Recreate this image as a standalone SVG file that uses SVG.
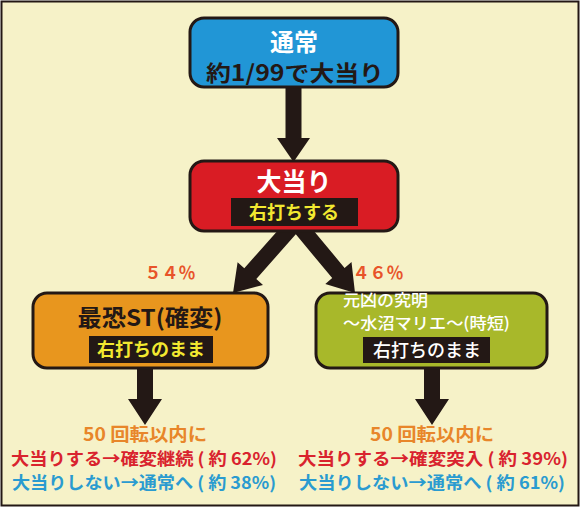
<svg xmlns="http://www.w3.org/2000/svg" width="580" height="507" viewBox="0 0 580 507">
<style>
text{font-family:"Noto Sans CJK JP","Noto Sans",sans-serif;font-weight:bold;}
.box{stroke:#231815;stroke-width:3;}
.lbl{fill:#231815;}
.arrow{fill:#231815;}
.w{fill:#ffffff;}
.k{fill:#231815;}
.y{fill:#f2e830;}
.pct{fill:#e8542a;font-size:17px;}
.or{fill:#e8862a;}
.rd{fill:#d9232e;}
.bl{fill:#2a9bd0;}
.m{font-weight:500;}
</style>
<rect x="1.5" y="1.5" width="577" height="504" fill="#f6f2c8" stroke="#231815" stroke-width="2"/>
<g id="connectors">
<polygon class="arrow" points="285.5,80 301.5,80 301.5,138 310,138 293.5,162 277,138 285.5,138"/>
<polygon class="arrow" points="302.0,227.3 256.3,278.9 263.0,284.9 233,293 237.6,262.3 244.3,268.3 290.0,216.7"/>
<polygon class="arrow" points="302.2,216.9 344.6,267.9 351.5,262.1 355,293 325.3,283.9 332.2,278.1 289.8,227.1"/>
<polygon class="arrow" points="137,365 153,365 153,399 162,399 145,425 128,399 137,399"/>
<polygon class="arrow" points="424,365 440,365 440,399 449,399 432,425 415,399 424,399"/>
</g>
<g id="node-normal">
<rect class="box" x="190" y="18" width="208" height="69" rx="14" fill="#2196d6"/>
<text class="w" x="294" y="51" font-size="24" text-anchor="middle">通常</text>
<text class="k" x="295" y="81" font-size="22" text-anchor="middle" textLength="178" lengthAdjust="spacingAndGlyphs">約1/99で大当り</text>
</g>
<g id="node-jackpot">
<rect class="box" x="190" y="161" width="208" height="70" rx="14" fill="#d91c24"/>
<text class="w" x="294" y="191" font-size="25" text-anchor="middle">大当り</text>
<rect class="lbl" x="231" y="198" width="127" height="28"/>
<text class="y" x="294" y="219" font-size="18" text-anchor="middle">右打ちする</text>
</g>
<g id="node-st">
<text class="pct" x="170" y="279" text-anchor="middle">５４％</text>
<rect class="box" x="33" y="293" width="235" height="75" rx="14" fill="#e8961e"/>
<text class="k" x="150" y="326" font-size="23" text-anchor="middle" textLength="145" lengthAdjust="spacingAndGlyphs">最恐ST(確変)</text>
<rect class="lbl" x="89" y="336" width="124" height="27"/>
<text class="y" x="151" y="356" font-size="18" text-anchor="middle">右打ちのまま</text>
</g>
<g id="node-jitan">
<text class="pct" x="378" y="279" text-anchor="middle">４６％</text>
<rect class="box" x="316" y="293" width="231" height="75" rx="14" fill="#a8b82a"/>
<text class="w m" x="343" y="306" font-size="16" textLength="85" lengthAdjust="spacingAndGlyphs">元凶の究明</text>
<text class="w m" x="343" y="329" font-size="16" textLength="167" lengthAdjust="spacingAndGlyphs">～水沼マリエ～(時短)</text>
<rect class="lbl" x="363" y="337" width="127" height="26"/>
<text class="w m" x="427" y="357" font-size="18" text-anchor="middle">右打ちのまま</text>
</g>
<g id="result-st">
<text class="or" x="145" y="441" font-size="18" text-anchor="middle" textLength="124" lengthAdjust="spacingAndGlyphs">50 回転以内に</text>
<text class="rd" x="144" y="465" font-size="17" text-anchor="middle" textLength="266" lengthAdjust="spacingAndGlyphs">大当りする→確変継続 ( 約 62%)</text>
<text class="bl" x="144" y="489" font-size="17" text-anchor="middle" textLength="264" lengthAdjust="spacingAndGlyphs">大当りしない→通常へ ( 約 38%)</text>
</g>
<g id="result-jitan">
<text class="or" x="432" y="441" font-size="18" text-anchor="middle" textLength="124" lengthAdjust="spacingAndGlyphs">50 回転以内に</text>
<text class="rd" x="433" y="465" font-size="17" text-anchor="middle" textLength="270" lengthAdjust="spacingAndGlyphs">大当りする→確変突入 ( 約 39%)</text>
<text class="bl" x="432" y="489" font-size="17" text-anchor="middle" textLength="266" lengthAdjust="spacingAndGlyphs">大当りしない→通常へ ( 約 61%)</text>
</g>
</svg>
